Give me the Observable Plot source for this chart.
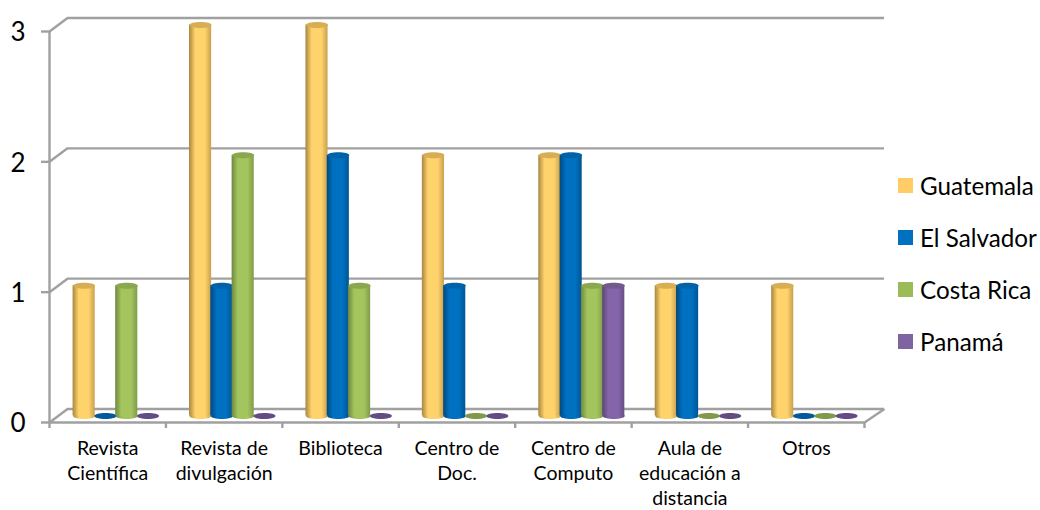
<!DOCTYPE html>
<html>
<head>
<meta charset="utf-8">
<script src="https://cdn.jsdelivr.net/npm/d3@7"></script>
<script src="https://cdn.jsdelivr.net/npm/@observablehq/plot@0.6"></script>
<style>
html,body{margin:0;padding:0;background:#fff;}
#chart{position:relative;width:1040px;height:510px;overflow:hidden;font-family:Lato,sans-serif;}
#chart svg{display:block;}
.legend{position:absolute;left:898px;top:0;}
.item{position:absolute;left:0;width:142px;height:24px;color:#000;font-size:24.2px;line-height:24px;white-space:nowrap;}
.item i{position:absolute;left:0;top:4px;width:15px;height:15px;}
.item span{position:absolute;left:22px;top:0;}
</style>
</head>
<body>
<div id="chart"></div>
<script>
const categories = ["Revista\nCientífica","Revista de\ndivulgación","Biblioteca","Centro de\nDoc.","Centro de\nComputo","Aula de\neducación a\ndistancia","Otros"];
const seriesNames = ["Guatemala","El Salvador","Costa Rica","Panamá"];
const guatemala  = [1,3,3,2,2,1,1];
const elSalvador = [0,1,2,1,2,1,0];
const costaRica  = [1,2,1,0,1,0,0];
const panama     = [0,0,0,0,1,0,0];
const valueTicks = [0,1,2,3];
const seriesValues = [guatemala, elSalvador, costaRica, panama];

const legendColor = ["#FFCC66","#0070C0","#9BBB59","#8064A2"];
const shades = [
  ["#A8863F","#FFD36B","#FFD36B","#C99F4E"],
  ["#00497F","#0070C0","#0070C0","#005592"],
  ["#6E8840","#A4C45E","#A4C45E","#7F9C48"],
  ["#5A4675","#8565AA","#8565AA","#654F85"]
];
const topCap = ["#D8AE55","#0063AA","#8BA84F","#72598F"];
const flatCap = ["#C99F4E","#005A9C","#7F9A48","#634C85"];

// depth of the 3D box and of the bar row, in data units
const backX = 18 / (815 / 7), backY = 13.5 / (391 / 3), rightX = 20 / (815 / 7);
const barStart = 0.206, barWidth = 0.183;

const rows = seriesValues.flatMap((vals, s) => vals.map((v, c) => ({
  s, c, v,
  x1: c + barStart + s * barWidth,
  x2: c + barStart + (s + 1) * barWidth,
  xm: c + barStart + (s + 0.5) * barWidth
})));

const ellipse = {
  draw(ctx, size) {
    const rx = Math.sqrt(size / Math.PI), ry = rx * 0.27, k = 0.5523;
    ctx.moveTo(-rx, 0);
    ctx.bezierCurveTo(-rx, -ry * k, -rx * k, -ry, 0, -ry);
    ctx.bezierCurveTo(rx * k, -ry, rx, -ry * k, rx, 0);
    ctx.bezierCurveTo(rx, ry * k, rx * k, ry, 0, ry);
    ctx.bezierCurveTo(-rx * k, ry, -rx, ry * k, -rx, 0);
    ctx.closePath();
  }
};

function defs() {
  const d = d3.create("svg:defs");
  shades.forEach((c, i) => {
    const g = d.append("linearGradient").attr("id", "cyl" + i).attr("x1", 0).attr("x2", 1).attr("y1", 0).attr("y2", 0);
    [[0, c[0]], [0.28, c[1]], [0.72, c[2]], [1, c[3]]].forEach(([o, col]) =>
      g.append("stop").attr("offset", o).attr("stop-color", col));
  });
  return d.node();
}

const gray = "#a0a0a0";
const sw = 2.4;
const lift = -6.5;
const marks = [defs];

// back wall gridlines and left wall slants
for (const v of valueTicks) {
  marks.push(Plot.ruleY([v + backY], {x1: backX, x2: 7 + rightX, stroke: gray, strokeWidth: sw}));
  marks.push(Plot.link([v], {x1: 0, y1: d => d, x2: backX, y2: d => d + backY, stroke: gray, strokeWidth: sw}));
}
// floor front edge, right edge, left vertical axis
marks.push(Plot.ruleY([0], {x1: 0, x2: 7, stroke: gray, strokeWidth: sw}));
marks.push(Plot.link([0], {x1: 7, y1: 0, x2: 7 + rightX, y2: backY, stroke: gray, strokeWidth: sw}));
marks.push(Plot.ruleX([0], {y1: 0, y2: 3, stroke: gray, strokeWidth: sw}));

// axes
marks.push(Plot.axisY({ticks: valueTicks, tickSize: 8, stroke: gray, strokeWidth: sw, tickFormat: () => "", label: null}));
marks.push(Plot.axisY({ticks: valueTicks, tickSize: 0, tickPadding: 24, dy: 1.5, fontSize: 26, stroke: "none", color: "#000", tickFormat: d3.format("d"), label: null}));
marks.push(Plot.axisX({ticks: d3.range(8), tickSize: 6, stroke: gray, strokeWidth: sw, tickFormat: () => "", label: null}));

// cylinders
for (let s = 0; s < 4; s++) {
  const sr = rows.filter(d => d.s === s);
  const up = sr.filter(d => d.v > 0);
  marks.push(Plot.dot(sr.filter(d => d.v === 0), {x: "xm", y: 0, r: 11, symbol: ellipse, fill: flatCap[s], stroke: "none", dy: lift}));
  marks.push(Plot.dot(up, {x: "xm", y: 0, r: 11, symbol: ellipse, fill: `url(#cyl${s})`, stroke: "none", dy: lift}));
  marks.push(Plot.rect(up, {x1: "x1", x2: "x2", y1: 0, y2: "v", inset: -0.4, insetTop: 0, insetBottom: 0, fill: `url(#cyl${s})`, dy: lift}));
  marks.push(Plot.dot(up, {x: "xm", y: "v", r: 11, symbol: ellipse, fill: topCap[s], stroke: "none", dy: lift}));
}

// category labels
marks.push(Plot.text(categories, {
  x: (d, i) => i + 0.5, y: 0, text: d => d, dy: 14, lineAnchor: "top", lineHeight: 1.3,
  fontSize: 19.5, fill: "#000", textAnchor: "middle"
}));

const plot = Plot.plot({
  width: 1040, height: 510,
  marginLeft: 49, marginRight: 176, marginTop: 31, marginBottom: 88,
  x: {domain: [0, 7]},
  y: {domain: [0, 3]},
  style: {fontFamily: "Lato, sans-serif", background: "#fff", overflow: "visible"},
  marks
});
const root = document.getElementById("chart");
root.appendChild(plot);

const lg = d3.select(root).append("div").attr("class", "legend");
seriesNames.forEach((n, i) => {
  const it = lg.append("div").attr("class", "item").style("top", (174 + i * 52) + "px");
  it.append("i").style("background", legendColor[i]);
  it.append("span").text(n);
});
</script>
</body>
</html>
